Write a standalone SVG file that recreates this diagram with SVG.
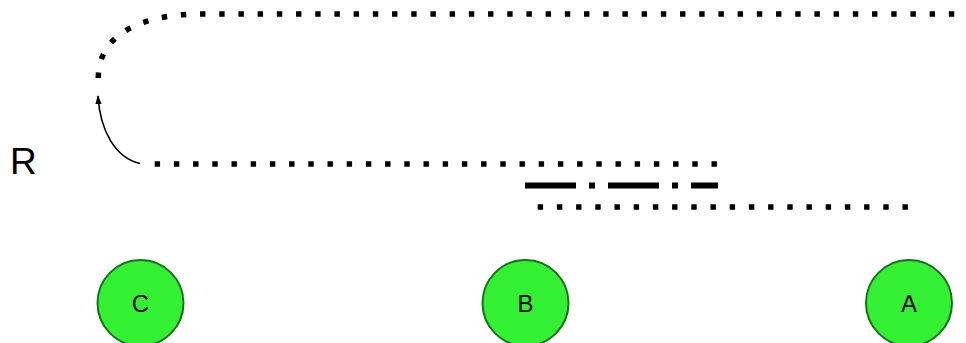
<svg xmlns="http://www.w3.org/2000/svg" width="966" height="343" viewBox="0 0 966 343">
<style>
.node circle{fill:#33f033;stroke:#1a701a;stroke-width:2}
.node text{font-family:"Liberation Sans",Arial,sans-serif;font-size:24px;text-anchor:middle;fill:#000}
.dot{fill:none;stroke:#000;stroke-width:5.5;stroke-dasharray:5.4 13.8}
</style>
<defs>
<marker id="ah" viewBox="0 0 10 10" refX="9" refY="5" markerWidth="9" markerHeight="9" markerUnits="userSpaceOnUse" orient="auto">
<path d="M0,1.5 L10,5 L0,8.5 z" fill="#000"/>
</marker>
</defs>
<text x="10" y="174" font-family="Liberation Sans,Arial,sans-serif" font-size="37">R</text>
<g id="connectors">
<path class="dot" d="M98.3,78 C98.3,30 150,14 200,14 L966,14"/>
<path d="M140,163.5 C115,158 100,130 98,96" fill="none" stroke="#000" stroke-width="1.6" marker-end="url(#ah)"/>
<path class="dot" d="M154.7,164 L717,164"/>
<path fill="none" stroke="#000" stroke-width="6" stroke-dasharray="51 13 6 13" d="M525,185.5 L718,185.5"/>
<path class="dot" d="M537.7,207 L908,207"/>
</g>
<g id="C" class="node"><circle cx="140.5" cy="303" r="43"/><text x="140.5" y="312">C</text></g>
<g id="B" class="node"><circle cx="525.5" cy="303" r="43"/><text x="525.5" y="312">B</text></g>
<g id="A" class="node"><circle cx="909" cy="303" r="43"/><text x="909" y="312">A</text></g>
</svg>
